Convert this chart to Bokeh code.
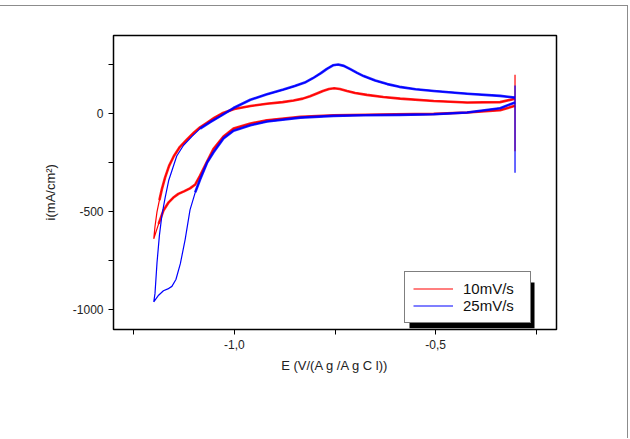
import numpy as np
from bokeh.plotting import figure
from bokeh.models import FixedTicker, Legend, LegendItem, BoxAnnotation
from bokeh.embed import file_html
from bokeh.resources import INLINE

# Cyclic voltammograms: potential E (V vs Ag/AgCl) and current density i (mA/cm2)
# 10 mV/s scan: cathodic branch from -0.30 V down to -1.20 V, then anodic return
e_10 = [-0.303, -0.340, -0.422, -0.505, -0.600, -0.671, -0.754, -0.836, -0.919, -0.960,
        -1.002, -1.027, -1.052, -1.068, -1.085, -1.097, -1.110, -1.125, -1.139, -1.152,
        -1.163, -1.176, -1.188, -1.200,
        -1.197, -1.192, -1.186, -1.180, -1.172, -1.162, -1.150, -1.135, -1.118, -1.100,
        -1.085, -1.068, -1.050, -1.030, -1.000, -0.960, -0.919, -0.880, -0.853, -0.830,
        -0.812, -0.795, -0.780, -0.765, -0.752, -0.738, -0.720, -0.700, -0.671, -0.630,
        -0.588, -0.505, -0.422, -0.340, -0.303]
i_10 = [41, 19, 7, 0, -2, -4, -7, -15, -32, -49,
        -75, -115, -180, -245, -315, -360, -380, -395, -408, -428,
        -451, -493, -561, -637,
        -575, -500, -440, -385, -325, -265, -215, -168, -132, -95,
        -68, -45, -20, 3, 25, 40, 52, 60, 68, 78,
        90, 104, 117, 127, 131, 127, 117, 107, 97, 86,
        78, 66, 58, 60, 77]

# 25 mV/s scan
e_25 = [-0.303, -0.340, -0.422, -0.505, -0.590, -0.679, -0.754, -0.836, -0.919, -0.960,
        -1.002, -1.027, -1.052, -1.068, -1.085, -1.097, -1.110, -1.122, -1.134, -1.145,
        -1.155, -1.165, -1.176, -1.188, -1.200,
        -1.197, -1.192, -1.186, -1.180, -1.172, -1.163, -1.155, -1.143, -1.126, -1.105,
        -1.085, -1.060, -1.035, -1.002, -0.960, -0.919, -0.878, -0.850, -0.825, -0.805,
        -0.785, -0.770, -0.755, -0.742, -0.728, -0.712, -0.695, -0.679, -0.650, -0.620,
        -0.590, -0.550, -0.505, -0.422, -0.340, -0.303]
i_25 = [58, 29, 7, -2, -5, -7, -10, -19, -39, -58,
        -86, -125, -197, -250, -335, -400, -490, -640, -764, -845,
        -880, -893, -902, -925, -959,
        -917, -760, -620, -520, -430, -340, -290, -215, -160, -115,
        -75, -42, -12, 30, 72, 100, 124, 142, 160, 182,
        208, 230, 248, 252, 245, 228, 209, 193, 170, 152,
        138, 126, 117, 103, 92, 83]

# transients at the switching potential
spike_10 = [200, -190]
spike_25 = [145, -300]

x_ticks = [-1.25, -1.0, -0.75, -0.5, -0.25]
x_tick_labels = {-1.0: "-1,0", -0.5: "-0,5"}
y_ticks = [-1000, -750, -500, -250, 0, 250]
y_tick_labels = {-1000: "-1000", -500: "-500", 0: "0"}

FONT = "Liberation Sans"

p = figure(width=628, height=433, x_range=(-1.3, -0.2), y_range=(-1100, 400),
           output_backend="svg", toolbar_location=None,
           min_border_left=113, min_border_right=72,
           min_border_top=29, min_border_bottom=110)
p.styles = {"margin-top": "5px", "border-top": "1px solid #8c8c8c",
            "border-right": "1px solid #8c8c8c"}
p.background_fill_color = "white"
p.border_fill_color = "white"
p.grid.visible = False
p.outline_line_color = "black"
p.outline_line_width = 1.5

# scan curves: thin full loop, thicker band where the signal is noisy
def draw_scan(e, i, spike, color, e_noisy):
    e = np.asarray(e, dtype=float)
    i = np.asarray(i, dtype=float)
    r = p.line(e, i, line_color=color, line_width=1.2)
    noisy = np.where(e > e_noisy, i, np.nan)
    p.line(e, noisy, line_color=color, line_width=2.6, line_alpha=0.85,
           line_join="round")
    p.line([e[0], e[0]], spike, line_color=color, line_width=1.2)
    return r

r10 = draw_scan(e_10, i_10, spike_10, "#ff0000", -1.19)
r25 = draw_scan(e_25, i_25, spike_25, "#0000ff", -1.10)

# axes
p.xaxis.ticker = FixedTicker(ticks=x_ticks)
p.xaxis.major_label_overrides = {t: x_tick_labels.get(t, "") for t in x_ticks}
p.yaxis.ticker = FixedTicker(ticks=y_ticks)
p.yaxis.major_label_overrides = {t: y_tick_labels.get(t, "") for t in y_ticks}
p.xaxis.axis_label = "E (V/(A g /A g C l))"
p.yaxis.axis_label = "i(mA/cm\u00b2)\u2002\u2002\u2002"
for ax in (p.xaxis, p.yaxis):
    ax.minor_tick_line_color = None
    ax.major_tick_in = 0
    ax.major_tick_out = 5
    ax.major_tick_line_color = "black"
    ax.axis_line_color = "black"
    ax.major_label_text_font = FONT
    ax.major_label_text_font_size = "12px"
    ax.major_label_text_color = "#222222"
    ax.axis_label_text_font = FONT
    ax.axis_label_text_font_size = "13px"
    ax.axis_label_text_font_style = "normal"
    ax.axis_label_text_color = "#222222"
p.xaxis.axis_label_standoff = 6
p.yaxis.axis_label_standoff = 12

# legend with a drop shadow
shadow = BoxAnnotation(left=-0.565, right=-0.2546, top=-860, bottom=-1093,
                       fill_color="black", fill_alpha=1.0, line_color=None)
p.add_layout(shadow)
legend = Legend(items=[LegendItem(label="10mV/s", renderers=[r10]),
                       LegendItem(label="25mV/s", renderers=[r25])],
                location=(291, 6), padding=8, spacing=0, margin=0,
                glyph_width=40, glyph_height=15, label_height=15, label_width=59,
                label_standoff=10, label_text_font=FONT, label_text_font_size="15px",
                label_text_color="#111111",
                border_line_color="black", border_line_width=1,
                background_fill_color="white", background_fill_alpha=1.0)
p.add_layout(legend)

open("out.html", "w").write(file_html(p, INLINE))
